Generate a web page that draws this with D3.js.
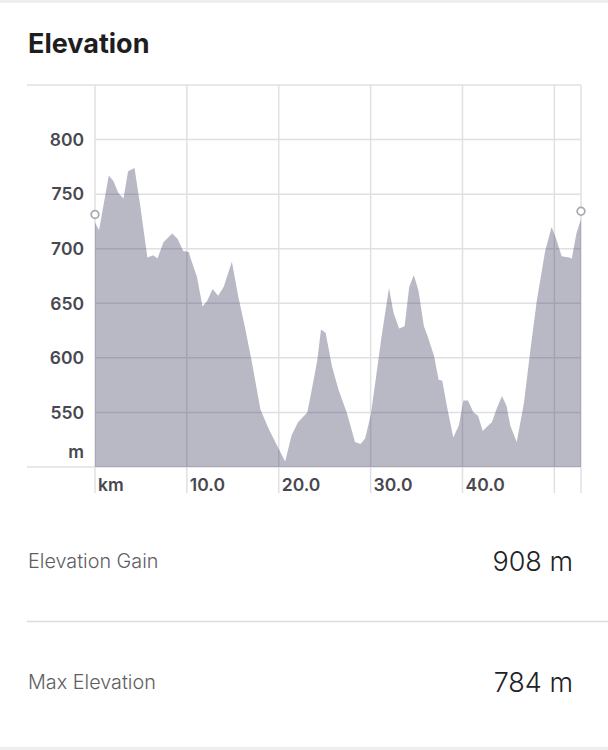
<!DOCTYPE html>
<html>
<head>
<meta charset="utf-8">
<script src="https://cdn.jsdelivr.net/npm/d3@7"></script>
<style>
  html, body { margin: 0; padding: 0; background: #fff; }
  svg { display: block; }
</style>
</head>
<body>
<svg id="chart" width="608" height="750"></svg>
<script>
// elevation profile (km along the route, metres)
var distanceKm = [0, 0.44, 1.5, 2.0, 2.54, 3.1, 3.6, 4.3, 4.9, 5.7, 6.35, 6.8, 7.45, 8.4, 9.0, 9.6, 10.2, 10.5,
  11.1, 11.7, 12.2, 12.8, 13.4, 14.0, 14.9, 15.6, 16.3, 17.1, 18.0, 18.9, 19.8, 20.7, 21.4, 22.1, 23.1, 23.6,
  24.2, 24.6, 25.1, 25.8, 26.5, 27.4, 27.9, 28.3, 28.9, 29.4, 30.0, 30.5, 31.2, 32.0, 32.5, 33.1, 33.7, 34.2,
  34.7, 35.2, 35.8, 36.2, 36.9, 37.4, 37.8, 38.3, 39.0, 39.6, 40.1, 40.6, 41.2, 41.7, 42.2, 42.8, 43.2, 43.7,
  44.3, 44.8, 45.2, 45.9, 46.7, 47.4, 48.1, 49.0, 49.7, 50.2, 50.8, 51.6, 51.9, 52.4, 52.9];
var elevationM = [724, 717, 767, 762, 751, 746, 771, 774, 741, 692, 694, 691, 706, 714, 709, 698, 697, 689,
  674, 647, 652, 663, 657, 665, 688, 656, 629, 595, 553, 535, 520, 505, 529, 541, 550, 571,
  598, 626, 623, 592, 571, 550, 535, 523, 521, 526, 547, 577, 620, 664, 641, 627, 629, 665,
  676, 662, 629, 620, 602, 580, 579, 556, 527, 538, 561, 561, 550, 547, 533, 538, 541, 553,
  565, 556, 538, 523, 559, 608, 653, 698, 720, 709, 693, 692, 691, 714, 727];

var yTicks = [550, 600, 650, 700, 750, 800];
var xTicks = [0, 10, 20, 30, 40, 50];
var xTickLabels = ["km", "10.0", "20.0", "30.0", "40.0", ""];

var statLabels = ["Elevation Gain", "Max Elevation"];
var statValues = ["908 m", "784 m"];

var dims = { left: 95, right: 581, top: 85, bottom: 467, axisLeft: 27 };

var svg = d3.select("#chart");
var font = "Inter, 'Noto Sans', sans-serif";

// light grey strips at the top and bottom edge of the card
svg.append("rect").attr("x", 0).attr("y", 0).attr("width", 608).attr("height", 3).attr("fill", "#eeeeef");
svg.append("rect").attr("x", 0).attr("y", 747).attr("width", 608).attr("height", 3).attr("fill", "#eeeeef");

svg.append("text")
  .attr("x", 28).attr("y", 53)
  .attr("font-family", font).attr("font-weight", 700).attr("font-size", 27)
  .attr("fill", "#1e1e20")
  .text("Elevation");

var x = d3.scaleLinear().domain([0, 52.9]).range([dims.left, dims.right]);
var y = d3.scaleLinear().domain([500, 850]).range([dims.bottom, dims.top]);

var data = distanceKm.map((d, i) => ({ km: d, ele: elevationM[i] }));

var grid = svg.append("g");
var gridColor = "#e0e0e4";

// horizontal grid
grid.selectAll(".hgrid")
  .data(yTicks)
  .enter().append("line")
  .attr("x1", dims.left).attr("x2", dims.right)
  .attr("y1", d => y(d)).attr("y2", d => y(d))
  .attr("stroke", gridColor).attr("stroke-width", 1.5);

// top border and baseline run out to the left edge
grid.selectAll(".hedge")
  .data([850, 500])
  .enter().append("line")
  .attr("x1", dims.axisLeft).attr("x2", dims.right)
  .attr("y1", d => y(d)).attr("y2", d => y(d))
  .attr("stroke", gridColor).attr("stroke-width", 1.5);

// vertical grid, reaching down past the baseline into the label strip
grid.selectAll(".vgrid")
  .data(xTicks.concat([52.9]))
  .enter().append("line")
  .attr("x1", d => x(d)).attr("x2", d => x(d))
  .attr("y1", dims.top).attr("y2", dims.bottom + 26)
  .attr("stroke", gridColor).attr("stroke-width", 1.5);

var area = d3.area()
  .x(d => x(d.km))
  .y0(y(500))
  .y1(d => y(d.ele));

svg.append("path")
  .datum(data)
  .attr("d", area)
  .attr("fill", "rgba(28, 30, 70, 0.31)");

// hollow markers at start and end
svg.selectAll(".endpoint")
  .data([data[0], data[data.length - 1]])
  .enter().append("circle")
  .attr("cx", d => x(d.km))
  .attr("cy", d => y(d.ele) - 8)
  .attr("r", 3.8)
  .attr("fill", "#fff")
  .attr("stroke", "#a9a9b2")
  .attr("stroke-width", 1.8);

var labelColor = "#48484f";

svg.selectAll(".ylab")
  .data(yTicks)
  .enter().append("text")
  .attr("x", 84).attr("y", d => y(d))
  .attr("dy", "0.36em")
  .attr("text-anchor", "end")
  .attr("font-family", font).attr("font-weight", 600).attr("font-size", 17.5)
  .attr("fill", labelColor)
  .text(d => d);

svg.append("text")
  .attr("x", 84).attr("y", y(500) - 9)
  .attr("text-anchor", "end")
  .attr("font-family", font).attr("font-weight", 600).attr("font-size", 17.5)
  .attr("fill", labelColor)
  .text("m");

svg.selectAll(".xlab")
  .data(xTicks)
  .enter().append("text")
  .attr("x", d => x(d) + 3).attr("y", dims.bottom + 24)
  .attr("font-family", font).attr("font-weight", 600).attr("font-size", 17.5)
  .attr("fill", labelColor)
  .text((d, i) => xTickLabels[i]);

// stats rows
var rowY = [568, 689];
svg.selectAll(".statLabel")
  .data(statLabels)
  .enter().append("text")
  .attr("x", 28).attr("y", (d, i) => rowY[i])
  .attr("font-family", font).attr("font-weight", 300).attr("font-size", 19.8)
  .attr("fill", "#5e5e62")
  .text(d => d);

svg.selectAll(".statValue")
  .data(statValues)
  .enter().append("text")
  .attr("x", 573).attr("y", (d, i) => rowY[i] + 3)
  .attr("text-anchor", "end")
  .attr("font-family", font).attr("font-weight", 300).attr("font-size", 27)
  .attr("fill", "#222224")
  .text(d => d);

svg.append("line")
  .attr("x1", 27).attr("x2", 608)
  .attr("y1", 621.5).attr("y2", 621.5)
  .attr("stroke", "#dcdcdf").attr("stroke-width", 1.5);
</script>
</body>
</html>
